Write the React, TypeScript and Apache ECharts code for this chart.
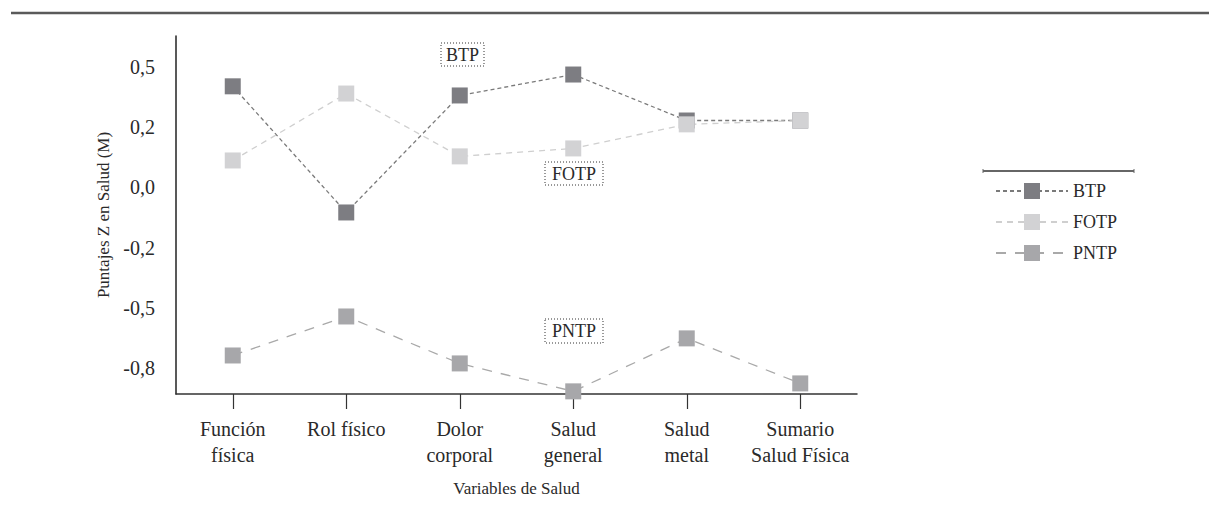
import React, { useEffect, useRef } from "react";
import * as echarts from "echarts";

const categories = [
  "Función\nfísica",
  "Rol físico",
  "Dolor\ncorporal",
  "Salud\ngeneral",
  "Salud\nmetal",
  "Sumario\nSalud Física",
];
const btp = [0.42, -0.104, 0.382, 0.469, 0.278, 0.278];
const fotp = [0.112, 0.39, 0.129, 0.162, 0.262, 0.278];
const pntp = [-0.698, -0.536, -0.731, -0.847, -0.627, -0.814];
const tickValues = [-0.75, -0.5, -0.25, 0, 0.25, 0.5];
const tickLabels = ["-0,8", "-0,5", "-0,2", "0,0", "0,2", "0,5"];
const seriesNames = ["BTP", "FOTP", "PNTP"];

const FONT = "'Liberation Serif', 'Times New Roman', serif";
const TXT = "#2a2a2a";

function boxLabel(text: string, x: number, y: number, w: number, h: number) {
  return {
    type: "group",
    x,
    y,
    children: [
      {
        type: "rect",
        shape: { x: 0, y: 0, width: w, height: h },
        style: { fill: "none", stroke: "#333", lineWidth: 1, lineDash: [1, 2] },
      },
      {
        type: "text",
        x: w / 2,
        y: h / 2,
        style: {
          text,
          fill: TXT,
          font: `18px ${FONT}`,
          textAlign: "center",
          textVerticalAlign: "middle",
        },
      },
    ],
  };
}

export default function App() {
  const ref = useRef<HTMLDivElement>(null);
  useEffect(() => {
    if (!ref.current) return;
    const chart = echarts.init(ref.current, undefined, { renderer: "svg" });
    const mk = (name: string, data: number[], marker: string, line: string, dash: number[]) => ({
      name,
      type: "line",
      data,
      symbol: "rect",
      symbolSize: 16,
      itemStyle: { color: marker },
      lineStyle: { color: line, width: 1.3, type: dash },
    });
    chart.setOption({
      animation: false,
      textStyle: { fontFamily: FONT },
      grid: { left: 176, right: 352, top: 36, bottom: 122, containLabel: false },
      xAxis: {
        type: "category",
        data: categories,
        boundaryGap: true,
        name: "Variables de Salud",
        nameLocation: "middle",
        nameGap: 86,
        nameTextStyle: { color: TXT, fontSize: 17, fontFamily: FONT },
        axisLine: { onZero: false, lineStyle: { color: "#333", width: 1.5 } },
        axisTick: {
          show: true,
          interval: 0,
          alignWithLabel: true,
          length: 15,
          lineStyle: { color: "#333", width: 1.2 },
        },
        axisLabel: { color: TXT, fontSize: 20, lineHeight: 26, margin: 22, fontFamily: FONT, interval: 0 },
        splitLine: { show: false },
      },
      yAxis: {
        type: "value",
        min: -0.858,
        max: 0.629,
        name: "Puntajes Z en Salud (M)",
        nameLocation: "middle",
        nameGap: 62,
        nameTextStyle: { color: TXT, fontSize: 17, fontFamily: FONT },
        axisLine: { show: true, lineStyle: { color: "#222", width: 1.5 } },
        axisTick: { show: false },
        splitLine: { show: false },
        axisLabel: {
          customValues: tickValues,
          color: TXT,
          fontSize: 20,
          margin: 21,
          fontFamily: FONT,
          formatter: (v: number) => {
            let best = 0;
            for (let i = 0; i < tickValues.length; i++) {
              if (Math.abs(tickValues[i] - v) < Math.abs(tickValues[best] - v)) best = i;
            }
            return tickLabels[best];
          },
        },
      },
      legend: {
        data: seriesNames,
        orient: "vertical",
        left: 990,
        top: 177,
        itemWidth: 72,
        itemHeight: 20,
        itemGap: 13,
        textStyle: { color: TXT, fontSize: 18, fontFamily: FONT },
      },
      series: [
        mk(seriesNames[0], btp, "#7d7d82", "#7a7a7a", [4, 3]),
        mk(seriesNames[1], fotp, "#d2d2d4", "#cfcfcf", [6, 5]),
        mk(seriesNames[2], pntp, "#a7a7aa", "#a9a9a9", [10, 9]),
      ],
      graphic: [
        {
          type: "line",
          shape: { x1: 11, y1: 13, x2: 1209, y2: 13 },
          style: { stroke: "#5a5a5a", lineWidth: 2.5 },
        },
        {
          type: "line",
          shape: { x1: 983, y1: 171, x2: 1134, y2: 171 },
          style: { stroke: "#666", lineWidth: 2 },
        },
        {
          type: "line",
          shape: { x1: 983, y1: 169, x2: 983, y2: 173 },
          style: { stroke: "#666", lineWidth: 1 },
        },
        {
          type: "line",
          shape: { x1: 1134, y1: 169, x2: 1134, y2: 173 },
          style: { stroke: "#666", lineWidth: 1 },
        },
        boxLabel("BTP", 441, 43, 43, 23),
        boxLabel("FOTP", 545, 162, 58, 23),
        boxLabel("PNTP", 545, 319, 58, 24),
      ],
    });
    return () => chart.dispose();
  }, []);
  return (
    <div
      ref={ref}
      style={{ position: "absolute", left: 0, top: 0, width: 1209, height: 516, background: "#fff" }}
    />
  );
}
